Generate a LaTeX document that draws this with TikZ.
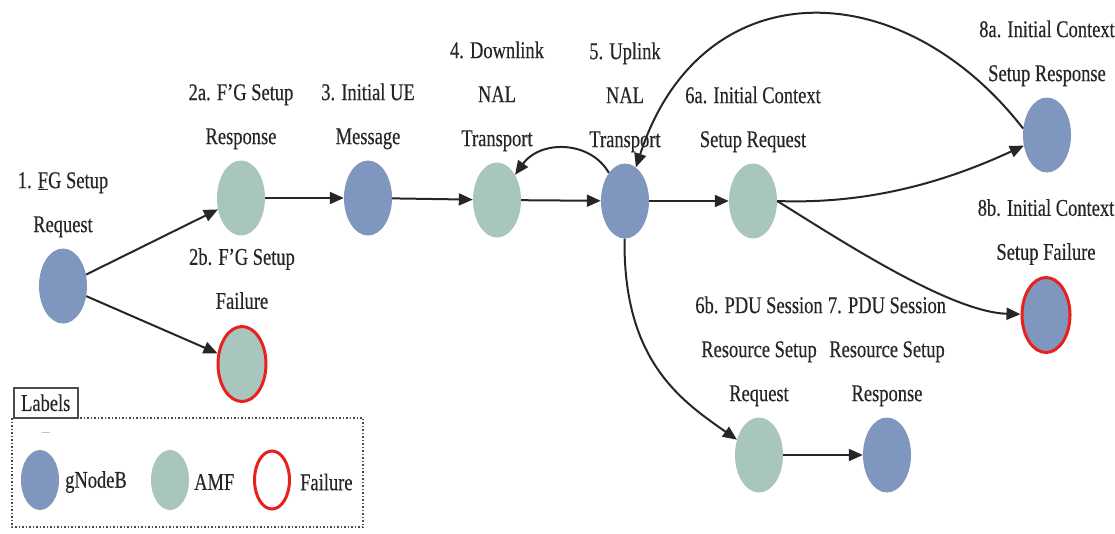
\documentclass[tikz,border=0pt]{standalone}
\usepackage{fontspec}
\setmainfont{Liberation Serif}[FakeStretch=0.77,FakeBold=0.4]
\usepackage{xcolor}
\usepackage{tikz}
\usetikzlibrary{
  shapes.geometric,
  arrows.meta
}
\definecolor{gnbblue}{HTML}{7F96BE}
\definecolor{amfgreen}{HTML}{A8C5BE}
\definecolor{failred}{HTML}{E8201E}

\begin{document}
\begin{tikzpicture}[%詳細設定
        x=1pt,y=-1pt,
        every node/.style={
            font=\fontsize{24}{44}\selectfont,
            text=black!85
          },
        gnb/.style={
            ellipse,
            fill=gnbblue,
            minimum width=48pt,
            minimum height=75pt,
            inner sep=0pt
          },
        amf/.style={
            gnb,
            fill=amfgreen
          },
        fail/.style={
            draw=failred,
            line width=3pt
          },
        lbl/.style={
            align=center,
            inner sep=0pt,
            text depth=0pt,
            above=16pt
          },
        msg/.style={
            line width=2pt,
            draw=black!85,
            -{Triangle[length=14pt,width=12pt]}
          }
      ]
      \useasboundingbox (0,0) rectangle (1115,533);

      % ノード
      \node[gnb] (gnb1) at (63,286) {};
      \node[amf] (amf2a) at (241,198) {};
      \node[amf,fail] (amf2b) at (242,364) {};
      \node[gnb] (gnb3) at (368,198) {};
      \node[amf] (amf4) at (497,200) {};
      \node[gnb] (gnb5) at (625,201) {};
      \node[amf] (amf6a) at (753,201) {};
      \node[amf] (amf6b) at (759,455) {};
      \node[gnb] (gnb7) at (887,455) {};
      \node[gnb] (gnb8a) at (1047,135) {};
      \node[gnb,fail] (gnb8b) at (1046,315) {};

      % ラベル
      \node[lbl] (t1) at (gnb1.north) {1. \underline{F}G Setup\\Request};
      \node[lbl] (t2a) at (amf2a.north) {2a. F'G Setup\\Response};
      \node[lbl] (t2b) at (amf2b.north) {2b. F'G Setup\\Failure};
      \node[lbl] (t3) at (gnb3.north) {3. Initial UE\\Message};
      \node[lbl] (t4) at (amf4.north) {4. Downlink\\NAL\\Transport};
      \node[lbl] (t5) at (gnb5.north) {5. Uplink\\NAL\\Transport};
      \node[lbl] (t6a) at (amf6a.north) {6a. Initial Context\\Setup Request};
      \node[lbl] (t6b) at (amf6b.north) {6b. PDU Session\\Resource Setup\\Request};
      \node[lbl] (t7) at (gnb7.north) {7. PDU Session\\Resource Setup\\Response};
      \node[lbl] (t8a) at (gnb8a.north) {8a. Initial Context\\Setup Response};
      \node[lbl] (t8b) at (gnb8b.north) {8b. Initial Context\\Setup Failure};

      % 直線
      \draw[msg] (gnb1) -- (amf2a);
      \draw[msg] (gnb1) -- (amf2b);
      \draw[msg] (amf2a) -- (gnb3);
      \draw[msg] (gnb3) -- (amf4);
      \draw[msg] (amf4) -- (gnb5);
      \draw[msg] (gnb5) -- (amf6a);
      \draw[msg] (amf6b) -- (gnb7);

      % 曲線
      \draw[msg] (gnb5) .. controls (590,140) and (540,140) .. (amf4);
      \draw[msg] (amf6a.east) .. controls (880,205) and (960,175) .. (gnb8a);
      \draw[msg] (amf6a.east) .. controls (840,240) and (950,312) .. (gnb8b);
      \draw[msg] (gnb8a.165) .. controls (900,-30) and (700,-30) .. (gnb5);
      \draw[msg] (gnb5) .. controls (623,360) and (680,400) .. (amf6b);

      % 凡例
      \draw[black!70,line width=1.5pt,dotted] (12,418) rectangle (363,527);
      \node[draw=black!70,line width=1.5pt,anchor=north west,
        minimum width=64pt,minimum height=30pt,inner sep=2pt] (legtitle) at (13,387) {Labels};
      \draw[black!25] (42,432) -- (50,432);
      \node[gnb,minimum width=38pt,minimum height=60pt] (leg_gnb) at (40,480) {};
      \node[anchor=west,inner sep=0pt] (leg_gnb_t) at (65,482) {gNodeB};
      \node[amf,minimum width=38pt,minimum height=60pt] (leg_amf) at (170,480) {};
      \node[anchor=west,inner sep=0pt] (leg_amf_t) at (194,482) {AMF};
      \node[gnb,fill=white,fail,minimum width=35pt,minimum height=58pt] (leg_fail) at (272,480) {};
      \node[anchor=west,inner sep=0pt] (leg_fail_t) at (300,482) {Failure};

    \end{tikzpicture}
\end{document}
